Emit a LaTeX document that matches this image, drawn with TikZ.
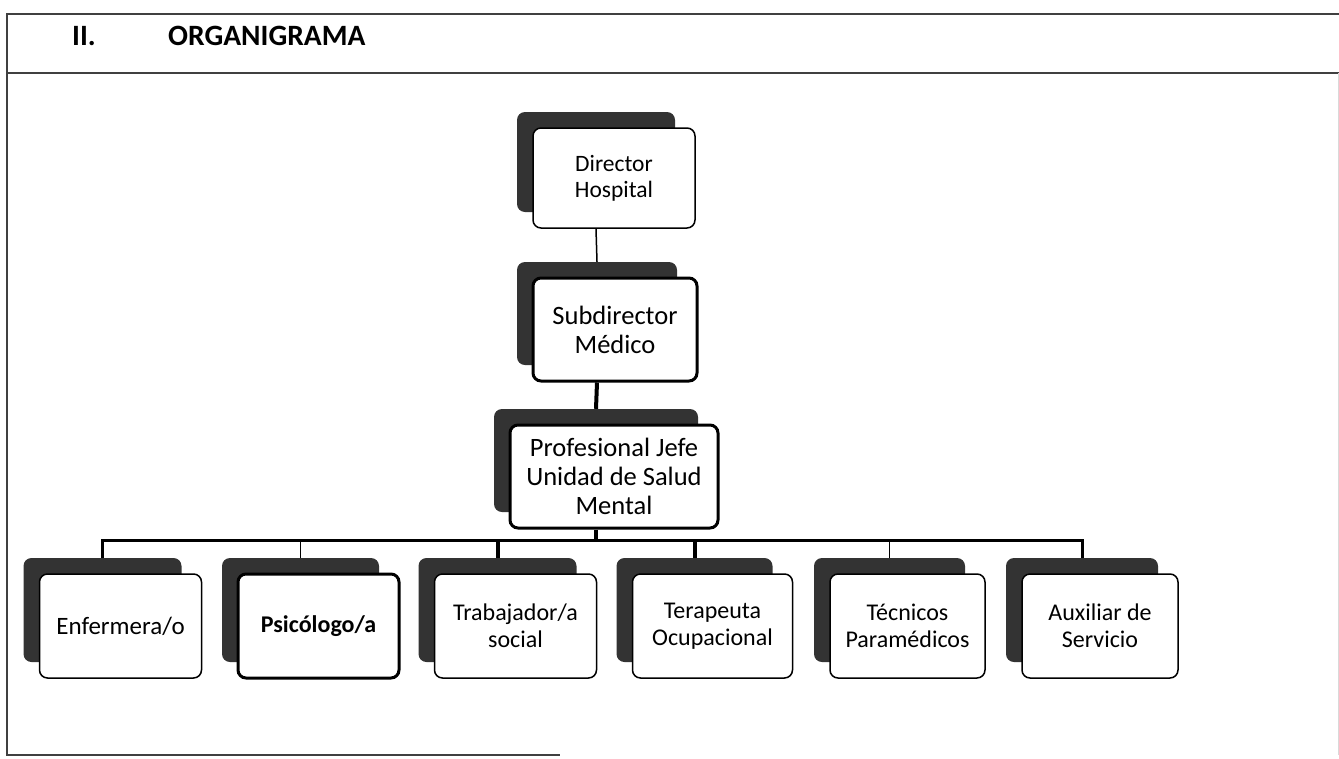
\documentclass[tikz,border=0pt]{standalone}
\usepackage{fontspec}
\setmainfont{Carlito}

\begin{document}
\begin{tikzpicture}[x=1pt, y=-1pt,
  every node/.style={inner sep=0pt, align=center},
  back/.style={fill=black!80, rounded corners=8pt},
  front/.style={draw, line width=1.5pt, fill=white, rounded corners=8pt, font=\fontsize{23.5}{26}\selectfont},
  boldbox/.style={line width=3pt},
  big/.style={font=\fontsize{26.5}{29}\selectfont},
  low/.style={font=\fontsize{24}{27}\selectfont},
  link/.style={line width=1.5pt},
  heavy/.style={line width=4pt}]
\useasboundingbox (0,0) rectangle (1339,758);

% frame and header
\draw[black!75, line width=1.4pt] (1339,14) -- (7,14) -- (7,755) -- (560,755);
\draw[black!75, line width=1.4pt] (7,73) -- (1339,73);
\draw[black!15, line width=1pt] (1338,73) -- (1338,755);
\node[anchor=base west, font=\bfseries\fontsize{29.5}{31}\selectfont] (num) at (72,45) {II.};
\node[anchor=base west, font=\bfseries\fontsize{29.5}{31}\selectfont] (title) at (168,45) {ORGANIGRAMA};

% top of the chart
\node[back, minimum width=158pt, minimum height=100pt] (dirS) at (596,162) {};
\node[front, minimum width=162pt, minimum height=100pt] (dir) at (614,178) {Director\\Hospital};

\node[back, minimum width=160pt, minimum height=103pt] (subS) at (597,313.5) {};
\node[front, boldbox, big, minimum width=164pt, minimum height=103pt] (sub) at (615,329.5) {Subdirector\\M\'edico};

\node[back, minimum width=204pt, minimum height=103pt] (profS) at (596,460.5) {};
\node[front, boldbox, big, minimum width=208pt, minimum height=103pt] (prof) at (614,476.5) {Profesional Jefe\\Unidad de Salud\\Mental};

% bottom row
\node[back, minimum width=158pt, minimum height=104pt] (enfS) at (102.5,610) {};
\node[front, low, minimum width=162pt, minimum height=104pt] (enf) at (120.5,626) {\fontsize{25}{27}\selectfont Enfermera/o};

\node[back, minimum width=157pt, minimum height=104pt] (psiS) at (300.5,610) {};
\node[front, boldbox, low, minimum width=161pt, minimum height=104pt] (psi) at (318.5,626) {\bfseries Psic\'ologo/a};

\node[back, minimum width=158pt, minimum height=104pt] (trabS) at (497.5,610) {};
\node[front, low, minimum width=162pt, minimum height=104pt] (trab) at (515.5,626) {Trabajador/a\\social};

\node[back, minimum width=156pt, minimum height=104pt] (terS) at (694.5,610) {};
\node[front, low, minimum width=160pt, minimum height=104pt] (ter) at (712.5,626) {Terapeuta\\Ocupacional};

\node[back, minimum width=151pt, minimum height=104pt] (tecS) at (889.5,610) {};
\node[front, low, minimum width=155pt, minimum height=104pt] (tec) at (907.5,626) {T\'ecnicos\\Param\'edicos};

\node[back, minimum width=152pt, minimum height=104pt] (auxS) at (1082,610) {};
\node[front, low, minimum width=156pt, minimum height=104pt] (aux) at (1100,626) {Auxiliar de\\Servicio};

% connectors
\coordinate (bus) at (596,540);
\draw[link] (dirS.center |- dir.south) -- (subS.north);
\draw[heavy] (subS.center |- sub.south) -- (profS.north);
\draw[heavy] (profS.center |- prof.south) -- (bus);
\draw[line width=3pt] (enfS.north) -- (enfS.north |- bus) -- (auxS.north |- bus) -- (auxS.north);
\draw[link] (psiS.north) -- (psiS.north |- bus);
\draw[heavy] (trabS.north) -- (trabS.north |- bus);
\draw[heavy] (terS.north) -- (terS.north |- bus);
\draw[link] (tecS.north) -- (tecS.north |- bus);
\end{tikzpicture}
\end{document}
